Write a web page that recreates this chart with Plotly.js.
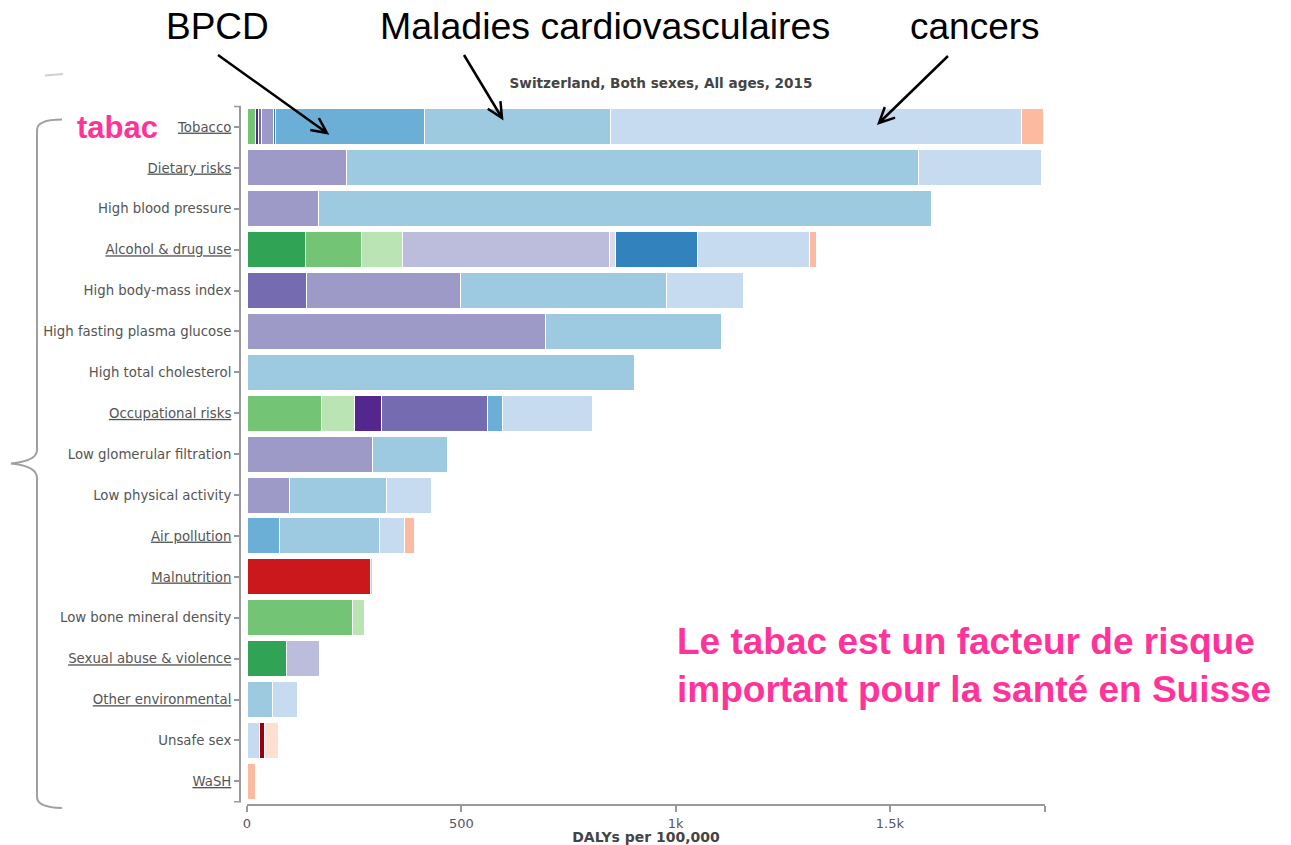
<!DOCTYPE html>
<html><head><meta charset="utf-8">
<script src="https://cdn.plot.ly/plotly-3.0.1.min.js"></script>
<style>html,body{margin:0;padding:0;background:#fff}</style>
</head><body>
<div id="chart" style="width:1291px;height:845px"></div>
<script>
// ---- DATA ----
const categories = ["Tobacco","Dietary risks","High blood pressure","Alcohol & drug use","High body-mass index",
  "High fasting plasma glucose","High total cholesterol","Occupational risks","Low glomerular filtration",
  "Low physical activity","Air pollution","Malnutrition","Low bone mineral density","Sexual abuse & violence",
  "Other environmental","Unsafe sex","WaSH"];
const linkedRisks = ["Tobacco","Dietary risks","Alcohol & drug use","Occupational risks","Air pollution",
  "Malnutrition","Sexual abuse & violence","Other environmental","WaSH"];

const selfHarmViolence  = [0,0,0,136,0,0,0,0,0,0,0,0,0,93,0,0,0];
const unintentionalInj  = [20,0,0,131,0,0,0,173,0,0,0,0,245,0,0,0,0];
const transportInj      = [0,0,0,96,0,0,0,78,0,0,0,0,29,0,0,0,0];
const otherNcd          = [6.5,0,0,0,0,0,0,62,0,0,0,0,0,0,0,0,0];
const musculoskeletal   = [7,0,0,0,139,0,0,247,0,0,0,0,0,0,0,0,0];
const diabetesCkd       = [28.5,231,167,0,359,697,0,0,293,99.5,0,0,0,0,0,0,0];
const mentalSubstance   = [0,0,0,482,0,0,0,0,0,0,0,0,0,76,0,0,0];
const neurological      = [0,0,0,15,0,0,0,0,0,0,0,0,0,0,0,0,0];
const cirrhosis         = [5.3,0,0,191,0,0,0,0,0,0,0,0,0,0,0,0,0];
const chronicRespiratory= [346,0,0,0,0,0,0,36,0,0,75,0,0,0,0,0,0];
const cardiovascular    = [436,1336,1431,0,481,409,904,0,174,225,233,0,0,0,59,0,0];
const neoplasms         = [958,287,0,261,180,0,0,209,0,107,59,0,0,0,59,29.5,0];
const hivAids           = [0,0,0,0,0,0,0,0,0,0,0,0,0,0,0,11,0];
const nutritional       = [0,0,0,0,0,0,0,0,0,0,0,288,0,0,0,0,0];
const diarrheaLri       = [51.5,0,0,16,0,0,0,0,0,0,24,4.7,0,0,0,0,18.7];
const otherCommunicable = [0,0,0,0,0,0,0,0,0,0,0,0,0,0,0,32,0];

const xTickVals = [0,500,1000,1500];
const xTickText = ["0","500","1k","1.5k"];

const series = [
  {name:"Self-harm & violence", v:selfHarmViolence, c:"#31a354"},
  {name:"Unintentional injuries", v:unintentionalInj, c:"#74c476"},
  {name:"Transport injuries", v:transportInj, c:"#bae4b3"},
  {name:"Other non-communicable", v:otherNcd, c:"#54278f"},
  {name:"Musculoskeletal disorders", v:musculoskeletal, c:"#756bb1"},
  {name:"Diabetes, urogenital, blood, endocrine", v:diabetesCkd, c:"#9e9ac8"},
  {name:"Mental & substance use", v:mentalSubstance, c:"#bcbddc"},
  {name:"Neurological disorders", v:neurological, c:"#dadaeb"},
  {name:"Cirrhosis", v:cirrhosis, c:"#3182bd"},
  {name:"Chronic respiratory", v:chronicRespiratory, c:"#6baed6"},
  {name:"Cardiovascular diseases", v:cardiovascular, c:"#9ecae1"},
  {name:"Neoplasms", v:neoplasms, c:"#c6dbef"},
  {name:"HIV/AIDS & tuberculosis", v:hivAids, c:"#99000d"},
  {name:"Nutritional deficiencies", v:nutritional, c:"#cb181d"},
  {name:"Diarrhea, LRI & other infections", v:diarrheaLri, c:"#fcbba1"},
  {name:"Other communicable", v:otherCommunicable, c:"#fee0d2"}
];

// ---- LAYOUT HELPERS (pixel -> paper, margins are 0) ----
const W = 1291, H = 845;
const px = x => x / W;
const py = y => 1 - y / H;
function pathFrom(pts){
  return pts.map(p => p[0] + p.slice(1).map((v,i)=> (i%2===0? px(v): py(v)).toFixed(5)).join(',')).join(' ');
}
function arrowShape(x0,y0,x1,y1){
  const a = Math.atan2(y1-y0, x1-x0), L = 17, s = 0.45;
  const a1 = a + Math.PI - s, a2 = a + Math.PI + s;
  const p1 = [x1 + L*Math.cos(a1), y1 + L*Math.sin(a1)];
  const p2 = [x1 + L*Math.cos(a2), y1 + L*Math.sin(a2)];
  return {type:'path', xref:'paper', yref:'paper',
    path: pathFrom([['M',x0,y0],['L',x1,y1],['M',p1[0],p1[1]],['L',x1,y1],['L',p2[0],p2[1]]]),
    line:{color:'#000', width:2.5}};
}

const traces = series.map(s => ({
  type:'bar', orientation:'h', name:s.name, x:s.v, y:categories,
  marker:{color:s.c, line:{color:'#ffffff', width:1}},
  hovertemplate:'%{y}<br>'+s.name+': %{x:.1f}<extra></extra>'
}));

const ticktext = categories.map(c => linkedRisks.includes(c) ? '<u>'+c+'</u>' : c);

const plotTop = 106.5, plotBottom = 801.8;
const layout = {
  width:W, height:H, margin:{l:0,r:0,t:0,b:0}, paper_bgcolor:'#fff', plot_bgcolor:'#fff',
  barmode:'stack', bargap:0.12, showlegend:false,
  font:{family:'DejaVu Sans, Verdana, sans-serif', color:'#555'},
  title:{text:'<b>Switzerland, Both sexes, All ages, 2015</b>', x:px(661), y:py(83), xanchor:'center', yanchor:'middle',
    font:{family:'DejaVu Sans, Verdana, sans-serif', size:13.6, color:'#444'}},
  xaxis:{domain:[px(247), px(1045)], range:[0,1862], anchor:'free', position:py(805),
    tickmode:'array', tickvals:xTickVals.concat([1862]), ticktext:xTickText.concat(['']),
    ticks:'outside', ticklen:6, tickcolor:'#999', tickwidth:1.5,
    showline:true, linecolor:'#999', linewidth:2, showgrid:false, zeroline:false,
    tickfont:{size:13, color:'#556'},
    title:{text:'<b>DALYs per 100,000</b>', standoff:1, font:{size:14, color:'#444'}}},
  yaxis:{domain:[py(plotBottom), py(plotTop)], type:'category', autorange:'reversed',
    anchor:'free', position:px(240),
    tickmode:'array', tickvals:categories, ticktext:ticktext,
    ticks:'outside', ticklen:5, tickcolor:'#999', tickwidth:1.5,
    showline:true, linecolor:'#999', linewidth:2, showgrid:false, zeroline:false,
    tickfont:{size:13.3, color:'#555'}},
  shapes:[
    {type:'line', xref:'paper', yref:'paper', x0:px(234), x1:px(241), y0:py(plotTop), y1:py(plotTop), line:{color:'#999', width:1.5}},
    {type:'line', xref:'paper', yref:'paper', x0:px(234), x1:px(241), y0:py(plotBottom), y1:py(plotBottom), line:{color:'#999', width:1.5}},
    {type:'path', xref:'paper', yref:'paper', line:{color:'#a0a0a0', width:2},
      path: pathFrom([['M',62,119.5],['Q',37,119.5,37,130],['L',37,450],['Q',37,461,11,463.5],['Q',37,466,37,478],['L',37,797],['Q',37,807.5,62,808]])},
    {type:'line', xref:'paper', yref:'paper', x0:px(45), x1:px(63), y0:py(75.5), y1:py(74), line:{color:'#d0d0d0', width:2}},
    arrowShape(218,55,327,133),
    arrowShape(464,55,502,118),
    arrowShape(948,56,879,123)
  ],
  annotations:[
    {text:'BPCD', x:px(217), y:py(26), xref:'paper', yref:'paper', showarrow:false, xanchor:'center', yanchor:'middle',
      font:{family:'Liberation Sans, Arial, sans-serif', size:37, color:'#000'}},
    {text:'Maladies cardiovasculaires', x:px(604.5), y:py(26), xref:'paper', yref:'paper', showarrow:false, xanchor:'center', yanchor:'middle',
      font:{family:'Liberation Sans, Arial, sans-serif', size:37.5, color:'#000'}},
    {text:'cancers', x:px(975), y:py(26), xref:'paper', yref:'paper', showarrow:false, xanchor:'center', yanchor:'middle',
      font:{family:'Liberation Sans, Arial, sans-serif', size:37, color:'#000'}},
    {text:'<b>tabac</b>', x:px(117.5), y:py(127), xref:'paper', yref:'paper', showarrow:false, xanchor:'center', yanchor:'middle',
      font:{family:'Liberation Sans, Arial, sans-serif', size:31, color:'#ff3399'}},
    {text:'<b>Le tabac est un facteur de risque<br>important pour la santé en Suisse</b>', x:px(675), y:py(665), xref:'paper', yref:'paper',
      showarrow:false, xanchor:'left', yanchor:'middle', align:'left',
      font:{family:'Liberation Sans, Arial, sans-serif', size:37, color:'#ff3399'}}
  ]
};

Plotly.newPlot('chart', traces, layout, {displayModeBar:false});
</script>
</body></html>
